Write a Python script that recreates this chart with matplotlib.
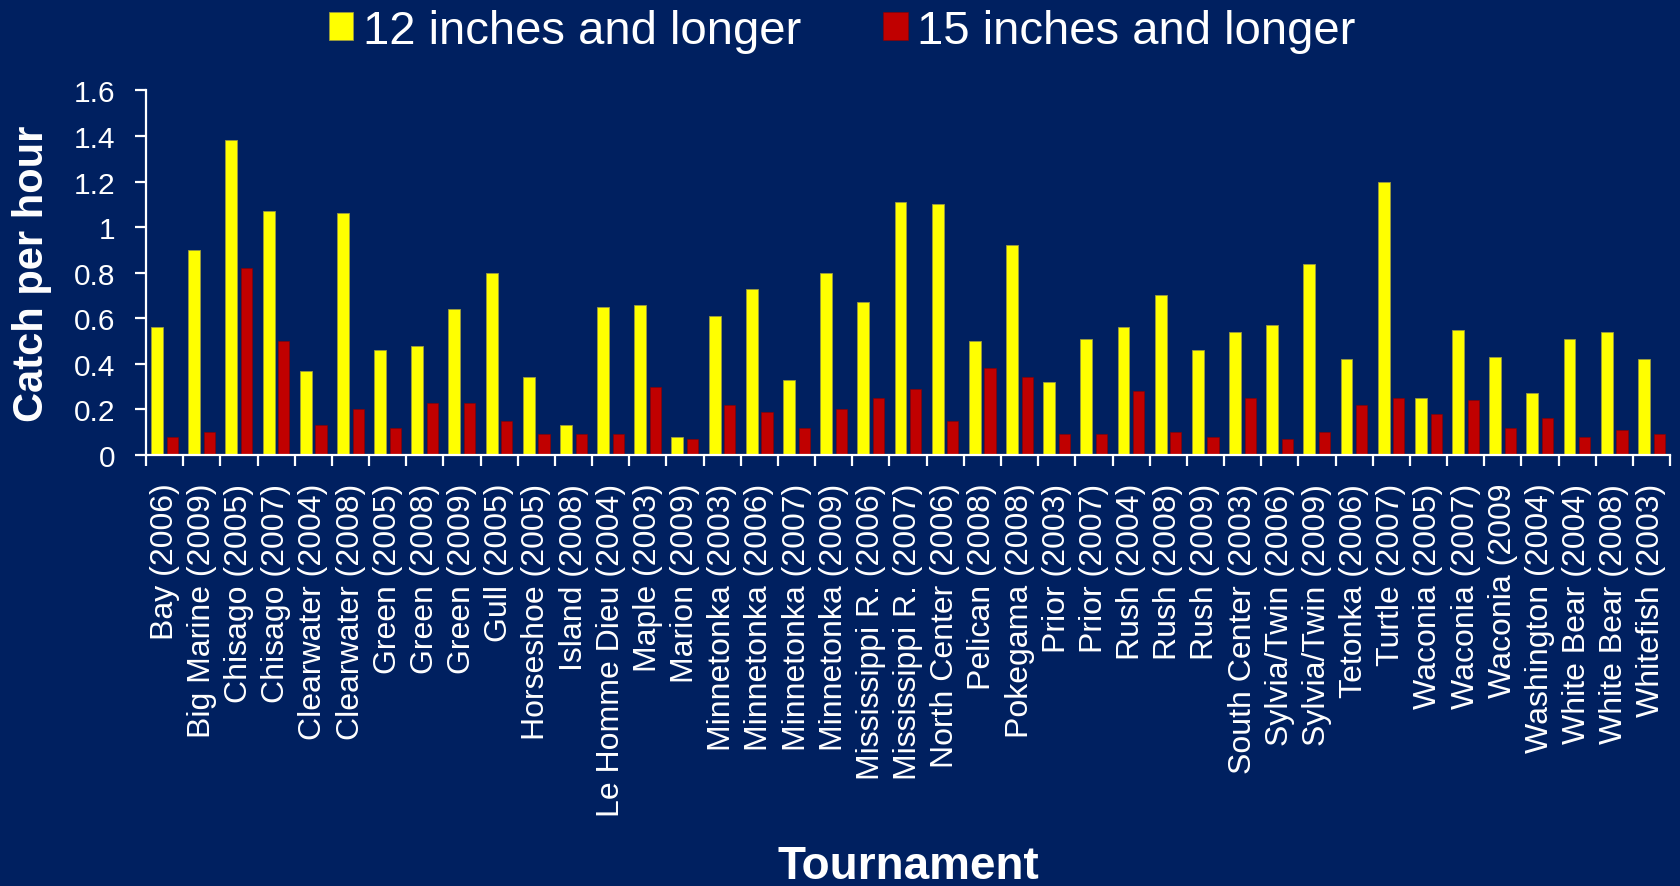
import numpy as np
from matplotlib import pyplot as plt
from matplotlib.ticker import FormatStrFormatter, FixedLocator

tournaments = ["Bay (2006)", "Big Marine (2009)", "Chisago (2005)", "Chisago (2007)",
               "Clearwater (2004)", "Clearwater (2008)", "Green (2005)", "Green (2008)",
               "Green (2009)", "Gull (2005)", "Horseshoe (2005)", "Island (2008)",
               "Le Homme Dieu (2004)", "Maple (2003)", "Marion (2009)", "Minnetonka (2003)",
               "Minnetonka (2006)", "Minnetonka (2007)", "Minnetonka (2009)",
               "Mississippi R. (2006)", "Mississippi R. (2007)", "North Center (2006)",
               "Pelican (2008)", "Pokegama (2008)", "Prior (2003)", "Prior (2007)",
               "Rush (2004)", "Rush (2008)", "Rush (2009)", "South Center (2003)",
               "Sylvia/Twin (2006)", "Sylvia/Twin (2009)", "Tetonka (2006)", "Turtle (2007)",
               "Waconia (2005)", "Waconia (2007)", "Waconia (2009", "Washington (2004)",
               "White Bear (2004)", "White Bear (2008)", "Whitefish (2003)"]

over12 = [0.56, 0.90, 1.38, 1.07, 0.37, 1.06, 0.46, 0.48, 0.64, 0.80, 0.34,
          0.13, 0.65, 0.66, 0.08, 0.61, 0.73, 0.33, 0.80, 0.67, 1.11, 1.10,
          0.50, 0.92, 0.32, 0.51, 0.56, 0.70, 0.46, 0.54, 0.57, 0.84, 0.42,
          1.20, 0.25, 0.55, 0.43, 0.27, 0.51, 0.54, 0.42]
over15 = [0.08, 0.10, 0.82, 0.50, 0.13, 0.20, 0.12, 0.23, 0.23, 0.15, 0.09,
          0.09, 0.09, 0.30, 0.07, 0.22, 0.19, 0.12, 0.20, 0.25, 0.29, 0.15,
          0.38, 0.34, 0.09, 0.09, 0.28, 0.10, 0.08, 0.25, 0.07, 0.10, 0.22,
          0.25, 0.18, 0.24, 0.12, 0.16, 0.08, 0.11, 0.09]

bg = "#002060"
plt.rcParams['font.family'] = ['Liberation Sans', 'DejaVu Sans']

fig = plt.figure(dpi=100, figsize=(16.81, 8.87), facecolor=bg)
ax = fig.add_axes([0.0869, 0.486, 0.9066, 0.411], facecolor=bg)

x = np.arange(len(tournaments))
ax.bar(x - 0.205, over12, width=0.32, color="#FFFF00", edgecolor="#9a9a40",
       linewidth=0.6, label="12 inches and longer")
ax.bar(x + 0.205, over15, width=0.30, color="#C00000", edgecolor="#8a0000",
       linewidth=0.4, label="15 inches and longer")

ax.set_xlim(-0.5, len(tournaments) - 0.5)
ax.set_ylim(0, 1.6)
ax.set_yticks(np.arange(0, 1.61, 0.2))
ax.yaxis.set_major_formatter(FormatStrFormatter('%g'))
ax.set_xticks(x)
ax.set_xticklabels(tournaments, rotation=90)
ax.xaxis.set_minor_locator(FixedLocator(np.arange(-0.5, len(tournaments), 1.0)))

for s in ["top", "right"]:
    ax.spines[s].set_visible(False)
for s in ["left", "bottom"]:
    ax.spines[s].set_color("white")
    ax.spines[s].set_linewidth(1.6)

ax.tick_params(axis='y', colors='white', labelsize=21.5, length=8, width=1.6, pad=14)
ax.tick_params(axis='x', which='major', colors='white', labelsize=23, length=0, pad=20)
ax.tick_params(axis='x', which='minor', colors='white', length=8, width=1.6)

ax.set_ylabel("Catch per hour", fontsize=30, fontweight='bold', color='white')
ax.yaxis.set_label_coords(-0.062, 0.5)
ax.set_xlabel("Tournament", fontsize=33, fontweight='bold', color='white')
ax.xaxis.set_label_coords(0.5, -1.066)

leg = fig.legend(loc='center', bbox_to_anchor=(0.501, 0.964), ncol=2, frameon=False,
                 fontsize=34, handlelength=0.52, handleheight=0.55, handletextpad=0.2,
                 columnspacing=1.75, borderaxespad=0)
for t in leg.get_texts():
    t.set_color('white')

fig.savefig("out.png", dpi=100, facecolor=bg)
